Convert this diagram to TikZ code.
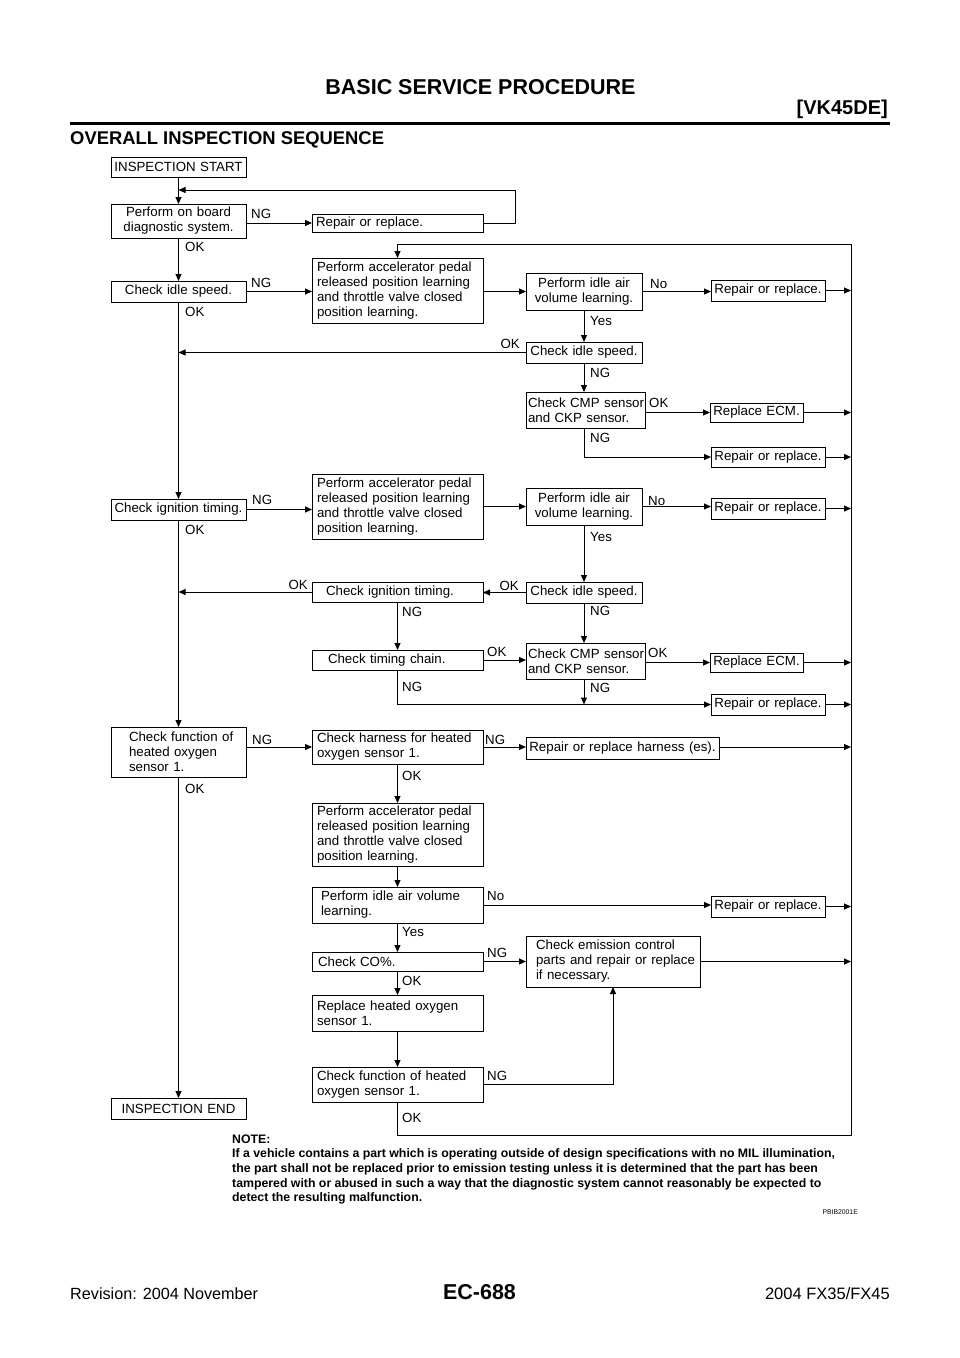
\documentclass[tikz,border=0pt]{standalone}
\usepackage{fontspec}
\setmainfont{Liberation Sans}
\usetikzlibrary{arrows.meta}
\newcommand\bxf{\fontsize{13.3}{15}\selectfont}
\newcommand\notef{\fontsize{12.3}{14.8}\selectfont\bfseries}
\begin{document}
\begin{tikzpicture}[x=1pt,y=-1pt,
  box/.style={draw, line width=1pt, anchor=north west, inner xsep=0pt, inner ysep=0pt, outer sep=0pt, font=\bxf},
  lp/.style={align=left, execute at begin node={\leftskip=#1pt\relax}},
  ct/.style={align=center},
  lab/.style={font=\bxf, inner sep=0pt, anchor=base west},
  labr/.style={font=\bxf, inner sep=0pt, anchor=base east},
  ar/.style={line width=1pt, -{Triangle[length=7pt,width=6pt]}},
  txt/.style={inner sep=0pt},
]
\useasboundingbox (0,0) rectangle (960,1358);

% header and footer
\node[txt, anchor=base, font=\fontsize{21.5}{24}\selectfont\bfseries] (title) at (480.5,94) {BASIC SERVICE PROCEDURE};
\node[txt, anchor=base east, font=\fontsize{20}{22}\selectfont\bfseries] (eng) at (888,114) {[VK45DE]};
\draw[line width=3pt] (70,123) -- (890,123);
\node[txt, anchor=base west, font=\fontsize{18.4}{20}\selectfont\bfseries] (sect) at (70,144.5) {OVERALL INSPECTION SEQUENCE};
\node[txt, anchor=base west, font=\fontsize{16.2}{18}\selectfont] (rev) at (70,1299) {Revision: 2004 November};
\node[txt, anchor=base, font=\fontsize{21.5}{24}\selectfont\bfseries] (page) at (479.5,1299) {EC-688};
\node[txt, anchor=base east, font=\fontsize{16.5}{18}\selectfont] (model) at (890,1299) {2004 FX35/FX45};

% boxes
\node[box,ct,text width=135pt,minimum height=20pt] (start) at (111,157) {INSPECTION START};
\node[box,ct,text width=135pt,minimum height=34pt] (obd) at (111,204) {Perform on board\\diagnostic system.};
\node[box,lp=4,text width=171pt,minimum height=18pt] (rep0) at (312,214) {Repair or replace.};
\node[box,ct,text width=135pt,minimum height=21pt] (idle1) at (111,281) {Check idle speed.};
\node[box,lp=5,text width=171pt,minimum height=65pt] (apl1) at (312,258) {Perform accelerator pedal\\released position learning\\and throttle valve closed\\position learning.};
\node[box,ct,text width=116pt,minimum height=37pt] (iav1) at (526,273) {Perform idle air\\volume learning.};
\node[box,ct,text width=114pt,minimum height=21pt] (rep1) at (711,280) {Repair or replace.};
\node[box,ct,text width=116pt,minimum height=21pt] (idle2) at (526,342) {Check idle speed.};
\node[box,lp=2,text width=119pt,minimum height=36pt] (cmp1) at (526,392) {Check CMP sensor\\and CKP sensor.};
\node[box,ct,text width=93pt,minimum height=19pt] (ecm1) at (710,403) {Replace ECM.};
\node[box,ct,text width=114pt,minimum height=20pt] (rep2) at (711,447) {Repair or replace.};
\node[box,ct,text width=135pt,minimum height=21pt] (ign1) at (111,499) {Check ignition timing.};
\node[box,lp=5,text width=171pt,minimum height=65pt] (apl2) at (312,474) {Perform accelerator pedal\\released position learning\\and throttle valve closed\\position learning.};
\node[box,ct,text width=116pt,minimum height=37pt] (iav2) at (526,488) {Perform idle air\\volume learning.};
\node[box,ct,text width=114pt,minimum height=21pt] (rep3) at (711,498) {Repair or replace.};
\node[box,ct,text width=116pt,minimum height=21pt] (idle3) at (526,582) {Check idle speed.};
\node[box,lp=14,text width=171pt,minimum height=20pt] (ign2) at (312,582) {Check ignition timing.};
\node[box,lp=16,text width=171pt,minimum height=20pt] (chain) at (312,650) {Check timing chain.};
\node[box,lp=2,text width=119pt,minimum height=36pt] (cmp2) at (526,643) {Check CMP sensor\\and CKP sensor.};
\node[box,ct,text width=93pt,minimum height=19pt] (ecm2) at (710,653) {Replace ECM.};
\node[box,ct,text width=114pt,minimum height=21pt] (rep4) at (711,694) {Repair or replace.};
\node[box,lp=18,text width=135pt,minimum height=50pt] (ho1) at (111,727) {Check function of\\heated oxygen\\sensor 1.};
\node[box,lp=5,text width=171pt,minimum height=34pt] (harn) at (312,730) {Check harness for heated\\oxygen sensor 1.};
\node[box,ct,text width=193pt,minimum height=22pt] (repharn) at (526,737) {Repair or replace harness (es).};
\node[box,lp=5,text width=171pt,minimum height=63pt] (apl3) at (312,803) {Perform accelerator pedal\\released position learning\\and throttle valve closed\\position learning.};
\node[box,lp=9,text width=171pt,minimum height=36pt] (iav3) at (312,887) {Perform idle air volume\\learning.};
\node[box,ct,text width=114pt,minimum height=21pt] (rep5) at (711,896) {Repair or replace.};
\node[box,lp=6,text width=171pt,minimum height=19pt] (co) at (312,952) {Check CO\%.};
\node[box,lp=10,text width=174pt,minimum height=51pt] (emis) at (526,936) {Check emission control\\parts and repair or replace\\if necessary.};
\node[box,lp=5,text width=171pt,minimum height=36pt] (rho) at (312,995) {Replace heated oxygen\\sensor 1.};
\node[box,lp=5,text width=171pt,minimum height=35pt] (ho2) at (312,1067) {Check function of heated\\oxygen sensor 1.};
\node[box,ct,text width=135pt,minimum height=21pt] (end) at (111,1098) {INSPECTION END};

% helper coordinates
\coordinate (busT) at (851,244);
\coordinate (busB) at (851,1135);
\coordinate (ret) at (515,190);

% connectors
\draw[ar] (start.south) -- (obd.north);
\draw[ar] (rep0.east) -| (ret) -- (ret -| start.south);
\draw[ar] (obd.east |- rep0.west) -- (rep0.west);
\draw[ar] (obd.south) -- (idle1.north);
\draw[ar] (idle1.east) -- (idle1.east -| apl1.west);
\draw[ar] (apl1.east |- iav1.west) -- (iav1.west);
\draw[ar] (iav1.east) -- (iav1.east -| rep1.west);
\draw[ar] (rep1.east) -- (rep1.east -| busT);
\draw[ar] (iav1.south) -- (idle2.north);
\draw[ar] (idle2.west) -- (idle2.west -| start.south);
\draw[ar] (idle2.south) -- (idle2.south |- cmp1.north);
\draw[ar] (cmp1.east |- ecm1.west) -- (ecm1.west);
\draw[ar] (ecm1.east) -- (ecm1.east -| busT);
\draw[ar] (idle2.south |- cmp1.south) |- (rep2.west);
\draw[ar] (rep2.east) -- (rep2.east -| busT);
\draw[ar] (idle1.south) -- (ign1.north);
\draw[ar] (ign1.east) -- (ign1.east -| apl2.west);
\draw[ar] (apl2.east) -- (apl2.east -| iav2.west);
\draw[ar] (iav2.east) -- (iav2.east -| rep3.west);
\draw[ar] (rep3.east) -- (rep3.east -| busT);
\draw[ar] (iav2.south) -- (idle3.north);
\draw[ar] (idle3.west) -- (idle3.west -| ign2.east);
\draw[ar] (ign2.west) -- (ign2.west -| start.south);
\draw[ar] (ign2.south) -- (chain.north);
\draw[ar] (chain.east) -- (chain.east -| cmp2.west);
\draw[ar] (idle3.south) -- (idle3.south |- cmp2.north);
\draw[ar] (cmp2.east |- ecm2.west) -- (ecm2.west);
\draw[ar] (ecm2.east) -- (ecm2.east -| busT);
\draw[ar] (chain.south) |- (rep4.west);
\draw[ar] (idle3.south |- cmp2.south) -- (idle3.south |- rep4.west);
\draw[ar] (rep4.east) -- (rep4.east -| busT);
\draw[ar] (ign1.south) -- (ho1.north);
\draw[ar] (ho1.east |- harn.west) -- (harn.west);
\draw[ar] (harn.east) -- (harn.east -| repharn.west);
\draw[ar] (repharn.east |- harn.east) -- (harn.east -| busT);
\draw[ar] (harn.south) -- (apl3.north);
\draw[ar] (apl3.south) -- (iav3.north);
\draw[ar] (iav3.east) -- (iav3.east -| rep5.west);
\draw[ar] (rep5.east) -- (rep5.east -| busT);
\draw[ar] (iav3.south) -- (co.north);
\draw[ar] (co.east) -- (co.east -| emis.west);
\draw[ar] (emis.east) -- (emis.east -| busT);
\draw[ar] (co.south) -- (rho.north);
\draw[ar] (rho.south) -- (ho2.north);
\draw[ar] (ho2.east) -| (emis.south);
\draw[ar] (ho2.south) |- (busB) -- (busT) -| (apl1.north);
\draw[ar] (ho1.south) -- (end.north);

% connector labels
\node[lab] (l1) at (251,218) {NG};
\node[lab] (l2) at (185,251) {OK};
\node[lab] (l3) at (251,287) {NG};
\node[lab] (l4) at (185,316.5) {OK};
\node[lab] (l5) at (650,288) {No};
\node[lab] (l6) at (590,325) {Yes};
\node[labr] (l7) at (520,348) {OK};
\node[lab] (l8) at (590,377) {NG};
\node[lab] (l9) at (649,407) {OK};
\node[lab] (l10) at (590,442) {NG};
\node[lab] (l11) at (185,534) {OK};
\node[lab] (l12) at (252,504) {NG};
\node[lab] (l13) at (648,505) {No};
\node[lab] (l14) at (590,541) {Yes};
\node[labr] (l15) at (519,590) {OK};
\node[labr] (l16) at (308,589) {OK};
\node[lab] (l17) at (402,616) {NG};
\node[lab] (l18) at (487,656) {OK};
\node[lab] (l19) at (590,615) {NG};
\node[lab] (l20) at (648,657) {OK};
\node[lab] (l21) at (402,691) {NG};
\node[lab] (l22) at (590,692) {NG};
\node[lab] (l23) at (252,744) {NG};
\node[lab] (l24) at (485,744) {NG};
\node[lab] (l25) at (402,780) {OK};
\node[lab] (l26) at (185,793) {OK};
\node[lab] (l27) at (487,900) {No};
\node[lab] (l28) at (402,936) {Yes};
\node[lab] (l29) at (487,957) {NG};
\node[lab] (l30) at (402,985) {OK};
\node[lab] (l31) at (487,1080) {NG};
\node[lab] (l32) at (402,1122) {OK};

% note
\node[txt, anchor=base west, font=\notef] (n0) at (232,1143) {NOTE:};
\node[txt, anchor=base west, font=\notef] (n1) at (232,1157.5) {If a vehicle contains a part which is operating outside of design specifications with no MIL illumination,};
\node[txt, anchor=base west, font=\notef] (n2) at (232,1172.3) {the part shall not be replaced prior to emission testing unless it is determined that the part has been};
\node[txt, anchor=base west, font=\notef] (n3) at (232,1187.1) {tampered with or abused in such a way that the diagnostic system cannot reasonably be expected to};
\node[txt, anchor=base west, font=\notef] (n4) at (232,1201.9) {detect the resulting malfunction.};
\node[txt, anchor=base east, font=\fontsize{6.8}{8}\selectfont] (code) at (858,1214.5) {PBIB2001E};
\end{tikzpicture}
\end{document}
